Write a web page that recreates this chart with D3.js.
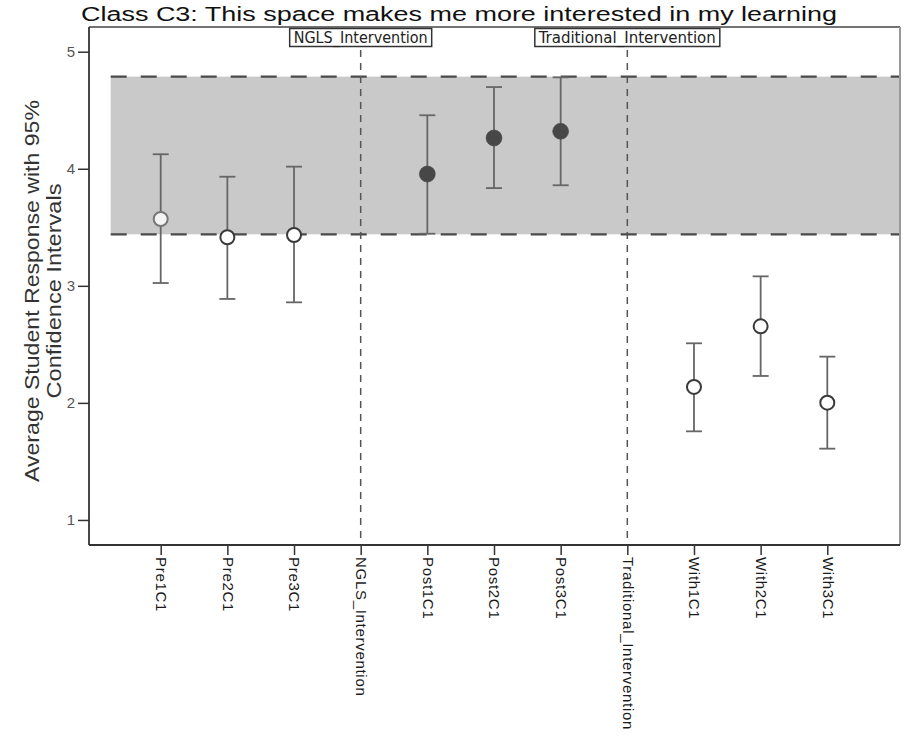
<!DOCTYPE html>
<html>
<head>
<meta charset="utf-8">
<script src="https://cdn.jsdelivr.net/npm/d3@7"></script>
<style>
  html, body { margin: 0; padding: 0; background: #fff; }
  svg { display: block; font-family: "Liberation Sans", Arial, sans-serif; }
</style>
</head>
<body>
<svg id="chart" width="904" height="740"></svg>
<script>
// ---- Data ----
const titleText = "Class C3: This space makes me more interested in my learning";
const yLabelLines = ["Average Student Response with 95%", "Confidence Intervals"];
const categories = ["Pre1C1", "Pre2C1", "Pre3C1", "NGLS_Intervention", "Post1C1", "Post2C1", "Post3C1",
                    "Traditional_Intervention", "With1C1", "With2C1", "With3C1"];
const pointCategories = ["Pre1C1", "Pre2C1", "Pre3C1", "Post1C1", "Post2C1", "Post3C1", "With1C1", "With2C1", "With3C1"];
const pointGroups = ["Pre", "Pre", "Pre", "Post", "Post", "Post", "With", "With", "With"];
const means = [3.571, 3.415, 3.434, 3.955, 4.263, 4.320, 2.136, 2.654, 2.002];
const lowerCI = [3.024, 2.888, 2.859, 3.445, 3.835, 3.859, 1.757, 2.230, 1.609];
const upperCI = [4.124, 3.932, 4.018, 4.457, 4.698, 4.781, 2.509, 3.081, 2.395];
const interventions = ["NGLS_Intervention", "Traditional_Intervention"];
const referenceBand = [3.44, 4.787];
const yTicks = [1, 2, 3, 4, 5];

// ---- Layout ----
const svg = d3.select("#chart");
const pLeft = 89, pRight = 900, pTop = 27, pBottom = 545;

const x = d3.scalePoint().domain(categories).range([160.7, 827.3]);
const y = d3.scaleLinear().domain([0.786, 5.211]).range([pBottom, pTop]);
const step = x.step();
const bandStart = x(categories[0]) - 0.75 * step;

// reference band
svg.append("rect")
  .attr("x", bandStart)
  .attr("y", y(referenceBand[1]))
  .attr("width", pRight - bandStart)
  .attr("height", y(referenceBand[0]) - y(referenceBand[1]))
  .attr("fill", "#c9c9c9");

svg.selectAll("line.bandline").data(referenceBand).join("line")
  .attr("class", "bandline")
  .attr("x1", bandStart)
  .attr("x2", pRight)
  .attr("y1", d => y(d)).attr("y2", d => y(d))
  .attr("stroke", "#4a4a4a").attr("stroke-width", 2.2)
  .attr("stroke-dasharray", "16,14");

// intervention vertical lines
svg.selectAll("line.interv").data(interventions).join("line")
  .attr("class", "interv")
  .attr("x1", d => x(d)).attr("x2", d => x(d))
  .attr("y1", 50).attr("y2", pBottom)
  .attr("stroke", "#555").attr("stroke-width", 1.5)
  .attr("stroke-dasharray", "7,6");

// error bars
const pts = pointCategories.map((c, i) => ({c, g: pointGroups[i], m: means[i], lo: lowerCI[i], hi: upperCI[i], i}));
const eb = svg.append("g").attr("stroke", "#666").attr("stroke-width", 1.8).attr("fill", "none");
eb.selectAll("line.v").data(pts).join("line").attr("class", "v")
  .attr("x1", d => x(d.c)).attr("x2", d => x(d.c))
  .attr("y1", d => y(d.hi)).attr("y2", d => y(d.lo));
eb.selectAll("line.ct").data(pts).join("line").attr("class", "ct")
  .attr("x1", d => x(d.c) - 8).attr("x2", d => x(d.c) + 8)
  .attr("y1", d => y(d.hi)).attr("y2", d => y(d.hi));
eb.selectAll("line.cb").data(pts).join("line").attr("class", "cb")
  .attr("x1", d => x(d.c) - 8).attr("x2", d => x(d.c) + 8)
  .attr("y1", d => y(d.lo)).attr("y2", d => y(d.lo));

// points
svg.selectAll("circle.pt").data(pts).join("circle")
  .attr("class", "pt")
  .attr("cx", d => x(d.c)).attr("cy", d => y(d.m))
  .attr("r", d => d.g === "Post" ? 8 : 7)
  .attr("fill", d => d.g === "Post" ? "#474747" : (d.i === 0 ? "#f4f4f4" : "#fff"))
  .attr("stroke", d => d.g === "Post" ? "#474747" : (d.i === 0 ? "#777" : "#3a3a3a"))
  .attr("stroke-width", d => d.g === "Post" ? 0.5 : 2);

// frame (top & right)
svg.append("line").attr("x1", pLeft).attr("x2", pRight).attr("y1", pTop).attr("y2", pTop)
  .attr("stroke", "#444").attr("stroke-width", 1.5);
svg.append("line").attr("x1", pRight).attr("x2", pRight).attr("y1", pTop).attr("y2", pBottom)
  .attr("stroke", "#999").attr("stroke-width", 2);

// y axis
const yAxis = d3.axisLeft(y).tickValues(yTicks).tickFormat(d3.format("d")).tickSize(11).tickPadding(3);
const yg = svg.append("g").attr("transform", `translate(${pLeft},0)`).call(yAxis);
yg.attr("font-family", null);
yg.select(".domain").attr("stroke", "#333").attr("stroke-width", 1.8).attr("d", `M0,${pTop}V${pBottom}`);
yg.selectAll(".tick line").attr("stroke", "#333").attr("stroke-width", 1.5);
yg.selectAll(".tick text").attr("fill", "#555").attr("font-size", 15);

// x axis
const xAxis = d3.axisBottom(x).tickSize(10).tickSizeOuter(0);
const xg = svg.append("g").attr("transform", `translate(0,${pBottom})`).call(xAxis);
xg.attr("font-family", null);
xg.select(".domain").attr("stroke", "#333").attr("stroke-width", 1.8).attr("d", `M${pLeft},0H${pRight}`);
xg.selectAll(".tick line").attr("stroke", "#333").attr("stroke-width", 1.5);
xg.selectAll(".tick text")
  .attr("font-size", 15).attr("fill", "#1a1a1a")
  .attr("letter-spacing", "0.7px")
  .attr("text-anchor", "start")
  .attr("transform", "translate(0,12) rotate(90)")
  .attr("x", 0).attr("y", 0).attr("dy", "0.35em");

// intervention label boxes
const boxW = {"NGLS_Intervention": 142, "Traditional_Intervention": 185};
const lab = svg.selectAll("g.lab").data(interventions).join("g").attr("class", "lab");
lab.append("rect")
  .attr("x", d => x(d) - boxW[d] / 2).attr("y", 28.5)
  .attr("width", d => boxW[d]).attr("height", 18)
  .attr("fill", "#fff").attr("stroke", "#333").attr("stroke-width", 1.5);
lab.append("text")
  .attr("x", d => x(d)).attr("y", 43)
  .attr("text-anchor", "middle")
  .attr("font-size", 16)
  .attr("font-family", "Liberation Sans Narrow, Arial Narrow, DejaVu Sans Condensed, sans-serif")
  .attr("fill", "#222")
  .attr("textLength", d => boxW[d] - 8)
  .attr("lengthAdjust", "spacingAndGlyphs")
  .text(d => d);

// title
svg.append("text")
  .attr("x", 81).attr("y", 21)
  .attr("font-size", 20).attr("fill", "#111")
  .attr("textLength", 756).attr("lengthAdjust", "spacingAndGlyphs")
  .text(titleText);

// y label
const yl = svg.append("g").attr("transform", "translate(0,291) rotate(-90)");
yl.append("text").attr("x", 0).attr("y", 39).attr("text-anchor", "middle")
  .attr("font-size", 20).attr("fill", "#333")
  .attr("textLength", 382).attr("lengthAdjust", "spacingAndGlyphs")
  .text(yLabelLines[0]);
yl.append("text").attr("x", 0).attr("y", 61).attr("text-anchor", "middle")
  .attr("font-size", 20).attr("fill", "#333")
  .attr("textLength", 215).attr("lengthAdjust", "spacingAndGlyphs")
  .text(yLabelLines[1]);
</script>
</body>
</html>
